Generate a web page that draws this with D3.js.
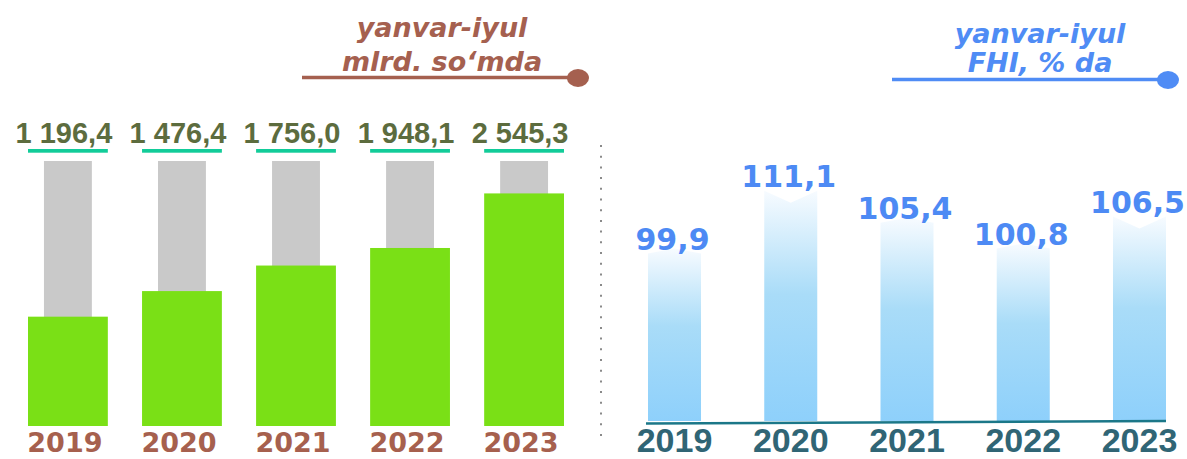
<!DOCTYPE html>
<html>
<head>
<meta charset="utf-8">
<script src="https://cdn.jsdelivr.net/npm/d3@7"></script>
<style>
  body { margin: 0; background: #fff; }
  svg { display: block; }
</style>
</head>
<body>
<script>
var w = 1187,
    h = 459;

var years = ["2019", "2020", "2021", "2022", "2023"];
var volume = [1196.4, 1476.4, 1756.0, 1948.1, 2545.3];   // mlrd. so'm
var growth = [99.9, 111.1, 105.4, 100.8, 106.5];          // % to previous year
var leftTitle = ["yanvar-iyul", "mlrd. so‘mda"];
var rightTitle = ["yanvar-iyul", "FHI, % da"];

var uz = d3.formatLocale({ decimal: ",", thousands: " ", grouping: [3] });
var fmtVol = uz.format(",.1f"),
    fmtPct = uz.format(".1f");

var svg = d3.select("body")
            .append("svg")
            .attr("width", w)
            .attr("height", h);

// ---------- left: volume ----------
var xL = d3.scaleBand()
    .domain(years)
    .range([28, 564])
    .paddingInner(0.3);

var yL = d3.scaleLinear()
    .domain([0, 2900])
    .range([426, 161]);

var left = svg.append("g");

// grey track behind each bar
left.selectAll("rect.track")
    .data(years)
    .enter()
    .append("rect")
    .attr("class", "track")
    .attr("x", function(d) { return xL(d) + xL.bandwidth() * 0.2; })
    .attr("y", yL(2900))
    .attr("width", xL.bandwidth() * 0.6)
    .attr("height", yL(0) - yL(2900))
    .attr("fill", "#c9c9c9");

left.selectAll("rect.bar")
    .data(volume)
    .enter()
    .append("rect")
    .attr("class", "bar")
    .attr("x", function(d, i) { return xL(years[i]); })
    .attr("y", function(d) { return yL(d); })
    .attr("width", xL.bandwidth())
    .attr("height", function(d) { return yL(0) - yL(d); })
    .attr("fill", "#7ae016");

// teal underline under each value
left.selectAll("rect.under")
    .data(years)
    .enter()
    .append("rect")
    .attr("class", "under")
    .attr("x", function(d) { return xL(d); })
    .attr("y", 149)
    .attr("width", xL.bandwidth())
    .attr("height", 3.7)
    .attr("fill", "#12cc99");

left.selectAll("text.val")
    .data(volume)
    .enter()
    .append("text")
    .attr("class", "val")
    .text(function(d) { return fmtVol(d); })
    .attr("x", function(d, i) { return xL(years[i]) + xL.bandwidth() / 2 - 4; })
    .attr("y", 143)
    .attr("text-anchor", "middle")
    .attr("font-family", "'Liberation Sans', Arial, sans-serif")
    .attr("font-weight", "bold")
    .attr("font-size", "29px")
    .attr("fill", "#5c6c3e");

left.selectAll("text.year")
    .data(years)
    .enter()
    .append("text")
    .attr("class", "year")
    .text(function(d) { return d; })
    .attr("x", function(d) { return xL(d) + xL.bandwidth() / 2 - 3; })
    .attr("y", 452)
    .attr("text-anchor", "middle")
    .attr("font-family", "'DejaVu Sans', sans-serif")
    .attr("font-weight", "bold")
    .attr("font-size", "27px")
    .attr("fill", "#a6604e");

// ---------- divider ----------
svg.append("line")
    .attr("x1", 601).attr("x2", 601)
    .attr("y1", 145).attr("y2", 436)
    .attr("stroke", "#8a8a8a")
    .attr("stroke-width", 2)
    .attr("stroke-dasharray", "2,8.7");

// ---------- right: growth ----------
var xR = d3.scaleBand()
    .domain(years)
    .range([648, 1166])
    .paddingInner(0.544);

var yR = d3.scaleLinear()
    .domain([70, 115])
    .range([421, 169]);

var defs = svg.append("defs");
var grad = defs.append("linearGradient")
    .attr("id", "blueFade")
    .attr("x1", 0).attr("y1", 1)
    .attr("x2", 0).attr("y2", 0);
grad.append("stop").attr("offset", "0%").attr("stop-color", "#8ed0fb");
grad.append("stop").attr("offset", "55%").attr("stop-color", "#a9dcf8");
grad.append("stop").attr("offset", "100%").attr("stop-color", "#f7fbff");

var right = svg.append("g");

right.selectAll("path.bar")
    .data(growth)
    .enter()
    .append("path")
    .attr("class", "bar")
    .attr("d", function(d, i) {
        var x0 = xR(years[i]),
            x1 = x0 + xR.bandwidth(),
            xc = (x0 + x1) / 2,
            yt = yR(d),
            yb = yR.range()[0];
        // V notch when the index rose against last year, small cap otherwise
        var dip = (i > 0 && d > growth[i - 1]) ? 12 : -5;
        return "M" + x0 + "," + yb + "L" + x0 + "," + yt +
               "L" + xc + "," + (yt + dip) + "L" + x1 + "," + yt +
               "L" + x1 + "," + yb + "Z";
    })
    .attr("fill", "url(#blueFade)");

right.append("line")
    .attr("x1", 646).attr("y1", 423.5)
    .attr("x2", 1166).attr("y2", 421)
    .attr("stroke", "#1b7788")
    .attr("stroke-width", 2.6);

right.selectAll("text.val")
    .data(growth)
    .enter()
    .append("text")
    .attr("class", "val")
    .text(function(d) { return fmtPct(d); })
    .attr("x", function(d, i) { return xR(years[i]) + xR.bandwidth() / 2 - 2; })
    .attr("y", function(d) { return yR(d) - 4; })
    .attr("text-anchor", "middle")
    .attr("font-family", "'DejaVu Sans', sans-serif")
    .attr("font-weight", "bold")
    .attr("font-size", "30px")
    .attr("fill", "#4d8af4");

right.selectAll("text.year")
    .data(years)
    .enter()
    .append("text")
    .attr("class", "year")
    .text(function(d) { return d; })
    .attr("x", function(d) { return xR(d) + xR.bandwidth() / 2; })
    .attr("y", 452)
    .attr("text-anchor", "middle")
    .attr("font-family", "'Liberation Sans', Arial, sans-serif")
    .attr("font-weight", "bold")
    .attr("font-size", "34px")
    .attr("fill", "#306575");

// ---------- legend titles ----------
function legend(lines, cx, ys, x1, x2, ly, color) {
    var g = svg.append("g");
    g.selectAll("text")
        .data(lines)
        .enter()
        .append("text")
        .text(function(d) { return d; })
        .attr("x", cx)
        .attr("y", function(d, i) { return ys[i]; })
        .attr("text-anchor", "middle")
        .attr("font-family", "'DejaVu Sans', sans-serif")
        .attr("font-weight", "bold")
        .attr("font-style", "italic")
        .attr("font-size", "27px")
        .attr("fill", color);
    g.append("line")
        .attr("x1", x1).attr("x2", x2)
        .attr("y1", ly).attr("y2", ly)
        .attr("stroke", color)
        .attr("stroke-width", 3.5);
    g.append("ellipse")
        .attr("cx", x2).attr("cy", ly + 0.5)
        .attr("rx", 11).attr("ry", 9)
        .attr("fill", color);
}

legend(leftTitle, 442, [37, 71], 302, 578, 77.5, "#a5604f");
legend(rightTitle, 1040, [43, 72], 892, 1168, 79.5, "#4f8cf5");
</script>
</body>
</html>
